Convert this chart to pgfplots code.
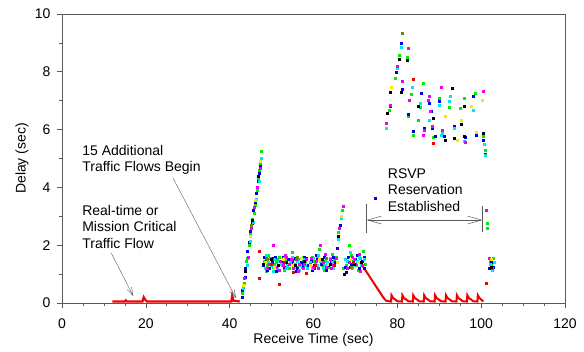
\documentclass[border=0pt]{standalone}
\usepackage{fontspec}
\setmainfont{Liberation Sans}
\usepackage{pgfplots}
\pgfplotsset{compat=1.18}
\usetikzlibrary{arrows.meta}
\definecolor{cG}{RGB}{0,235,0}
\definecolor{cB}{RGB}{0,0,230}
\definecolor{cC}{RGB}{0,230,240}
\definecolor{cM}{RGB}{240,0,240}
\definecolor{cY}{RGB}{245,235,0}
\definecolor{cK}{RGB}{0,0,0}
\definecolor{cD}{RGB}{110,130,20}
\definecolor{cR}{RGB}{240,0,0}
\definecolor{axgray}{RGB}{90,90,90}
\newcommand\ff{\fontsize{14}{16.5}\selectfont}
\begin{document}
\begin{tikzpicture}[font=\ff]
\begin{axis}[
  at={(0pt,0pt)}, anchor=south west,
  scale only axis, width=503pt, height=289pt,
  xmin=0, xmax=120, ymin=0, ymax=10,
  xtick={0,20,...,120}, ytick={0,2,...,10},
  minor x tick num=3, minor y tick num=1,
  xtick pos=left, ytick pos=left,
  tick align=outside,
  major tick length=5pt, minor tick length=3pt,
  axis line style={axgray, line width=0.6pt},
  tick style={axgray, line width=0.6pt},
  /pgf/number format/assume math mode=true,
  ticklabel style={font=\ff},
  xticklabel style={yshift=-7pt},
  yticklabel style={xshift=-3pt},
  xlabel={Receive Time (sec)},
  ylabel={Delay (sec)},
  every axis x label/.style={at={(axis description cs:0.5,-0.127)}, anchor=center},
  every axis y label/.style={at={(axis description cs:-0.0795,0.5)}, rotate=90, anchor=center},
  clip=false,
  mark size=1.0pt,
]
% red real-time flow (line-like)
\addplot[cR, line width=2.2pt, no marks] coordinates {
(12,0.05) (15,0.05) (15.2,0.09) (15.5,0.05) (19.2,0.05) (19.5,0.2) (19.9,0.1) (20.3,0.05)
(40.4,0.05) (40.6,0.25) (40.9,0.08) (42.4,0.05)};
\addplot[cR, line width=2pt, no marks] coordinates {
(71.8,1.26) (73.0,1.0) (74.2,0.73) (75.4,0.47) (76.6,0.2) (77.3,0.08) (78.5,0.05)
(78.6,0.27) (79.0,0.17) (79.5,0.12) (80.0,0.06) (81.1,0.05)
(81.2,0.27) (81.6,0.17) (82.1,0.12) (82.6,0.06) (83.7,0.05)
(83.8,0.27) (84.2,0.17) (84.7,0.12) (85.2,0.06) (86.3,0.05)
(86.4,0.27) (86.8,0.17) (87.3,0.12) (87.8,0.06) (88.9,0.05)
(89.0,0.27) (89.4,0.17) (89.9,0.12) (90.4,0.06) (91.5,0.05)
(91.6,0.27) (92.0,0.17) (92.5,0.12) (93.0,0.06) (94.1,0.05)
(94.2,0.27) (94.6,0.17) (95.1,0.12) (95.6,0.06) (96.6,0.05)
(96.7,0.27) (97.1,0.17) (97.6,0.12) (98.1,0.06) (99.1,0.05)
(99.2,0.27) (99.6,0.17) (100.0,0.12) (100.5,0.05)};
% green
\addplot[only marks, mark=square*, cG] coordinates {
(43.0,0.35) (43.9,1.45) (44.6,2.0) (45.3,2.9) (46.0,3.4) (46.7,4.3) (47.3,4.8) (47.6,5.25)
(43.4,0.7) (44.2,1.55) (45.0,2.4) (45.8,3.1) (46.5,3.9) (47.1,4.6)
(48.2,1.45) (48.9,1.3) (49.6,1.55) (50.3,1.25) (51.0,1.4) (51.8,1.6) (52.5,1.3) (53.3,1.5)
(54.1,1.2) (54.8,1.75) (55.6,1.35) (56.4,1.5) (57.2,1.25) (58.0,1.45) (58.8,1.3) (59.6,1.6)
(60.4,1.35) (61.3,1.85) (62.1,1.3) (62.9,1.45) (63.7,1.25) (64.5,1.7) (65.3,1.6) (66.0,2.45)
(66.8,3.2) (67.8,1.3) (68.6,2.0) (69.4,1.45) (70.3,1.3) (71.1,1.55) (71.9,1.8)
(48.6,1.1) (49.3,1.65) (50.7,1.35) (51.4,1.5) (52.9,1.15) (53.7,1.35) (55.2,1.5) (56.0,1.25)
(57.6,1.6) (58.4,1.2) (60.0,1.45) (60.8,1.6) (62.5,1.15) (63.3,1.35) (64.9,1.5) (67.2,1.2)
(69.0,1.65) (70.7,1.15) (72.3,1.35)
(79.6,7.77) (80.4,8.58) (82.3,8.49) (83.3,7.22) (86.1,7.6) (90.1,7.08) (96.0,7.1) (98.6,7.26)
(78.0,6.68) (85.5,6.77) (92.3,6.79) (95.1,6.73) (82.5,6.45) (84.9,6.31) (83.7,5.81) (88.6,5.73)
(98.9,5.81) (100.5,5.76) (101.0,5.3) (101.4,2.6) (101.4,2.75)
(102.1,1.45) (102.5,1.3) (102.8,1.55)};
% blue
\addplot[only marks, mark=square*, cB] coordinates {
(42.9,0.2) (43.6,0.9) (44.3,1.8) (45.0,2.5) (45.7,3.2) (46.4,3.8) (47.0,4.5)
(43.1,0.45) (43.8,1.2) (44.6,2.1) (45.4,2.75) (46.1,3.5) (46.8,4.2) (47.4,4.75)
(48.0,1.3) (48.7,1.5) (49.4,1.2) (50.1,1.4) (50.9,1.6) (51.6,1.3) (52.4,1.45) (53.1,1.25)
(53.9,1.5) (54.7,1.35) (55.4,1.55) (56.2,1.2) (57.0,1.4) (57.8,1.6) (58.6,1.3) (59.4,1.45)
(60.2,1.2) (61.0,1.5) (61.8,1.35) (62.6,1.6) (63.4,1.3) (64.2,1.45) (65.0,1.4) (65.6,1.9)
(66.4,2.7) (67.5,1.25) (68.3,1.6) (69.1,1.35) (70.0,1.5) (70.8,1.2) (71.6,1.45) (72.2,1.6)
(48.3,1.6) (49.0,1.15) (50.5,1.55) (51.2,1.1) (52.8,1.6) (53.5,1.2) (55.0,1.45) (55.8,1.1)
(57.4,1.3) (58.2,1.55) (59.8,1.15) (60.6,1.65) (62.2,1.4) (63.0,1.15) (64.6,1.6) (67.8,1.05)
(68.7,1.25) (70.4,1.65) (72.0,1.2)
(74.8,3.62) (80.95,8.99) (79.8,7.97) (81.2,7.4) (85.8,7.26) (98.2,7.16) (90.1,6.99) (78.2,6.8)
(87.5,6.9) (88.1,6.62) (82.5,6.54) (93.6,6.12) (88.3,6.04) (86.3,6.04) (83.7,5.93) (89.0,5.76)
(91.2,5.76) (96.2,5.72) (98.8,5.81) (100.5,5.64) (101.0,5.15)
(102.0,1.2) (102.4,1.4) (102.9,1.25)};
% cyan
\addplot[only marks, mark=square*, cC] coordinates {
(43.3,0.5) (44.1,1.3) (44.9,2.15) (45.6,2.8) (46.3,3.6) (47.1,4.2) (47.5,5.0)
(48.4,1.2) (49.2,1.4) (50.0,1.3) (50.7,1.5) (51.4,1.2) (52.2,1.35) (53.0,1.55) (53.7,1.3)
(54.5,1.4) (55.3,1.25) (56.0,1.45) (56.8,1.3) (57.6,1.5) (58.4,1.2) (59.2,1.4) (60.0,1.55)
(60.8,1.3) (61.6,1.45) (62.4,1.2) (63.2,1.4) (64.0,1.55) (64.8,1.2) (65.8,2.2) (66.6,2.95)
(68.0,1.45) (68.8,1.75) (69.6,1.3) (70.5,1.45) (71.3,1.3) (72.0,1.5)
(48.8,1.65) (50.3,1.1) (51.8,1.45) (53.4,1.2) (55.0,1.6) (56.5,1.15) (58.0,1.3) (59.7,1.2)
(61.2,1.65) (62.8,1.3) (64.4,1.4) (67.6,1.5) (69.3,1.2) (71.0,1.6)
(80.95,8.84) (79.9,8.12) (83.6,7.48) (92.6,7.17) (85.5,6.93) (92.3,6.99) (90.1,6.85) (98.0,6.68)
(87.5,6.33) (77.4,6.04) (93.6,6.04) (90.7,5.87) (90.5,5.81) (95.9,5.6) (100.7,5.5) (101.0,5.1)
(102.2,1.35) (102.6,1.15) (103.0,1.4)};
% magenta
\addplot[only marks, mark=square*, cM] coordinates {
(43.5,0.85) (44.4,1.6) (45.1,2.6) (45.9,3.3) (46.6,4.0) (47.2,4.65)
(48.6,1.55) (49.4,1.35) (50.4,2.0) (51.2,1.25) (52.0,1.45) (52.8,1.3) (53.6,1.6) (54.3,1.35)
(55.1,1.2) (55.9,1.5) (56.7,1.35) (57.5,1.2) (58.3,1.5) (59.1,1.35) (59.9,1.25) (60.7,1.45)
(61.5,2.0) (62.3,1.4) (63.0,1.25) (63.9,1.5) (64.7,1.3) (65.5,1.55) (66.2,2.6) (67.0,3.35)
(68.4,1.4) (69.2,1.6) (70.1,1.35) (70.9,1.7) (71.7,1.3)
(48.9,1.2) (50.2,1.5) (51.9,1.15) (53.2,1.65) (54.6,1.5) (56.3,1.1) (57.8,1.35) (59.5,1.55)
(61.1,1.2) (62.7,1.7) (64.3,1.2) (68.1,1.2) (69.6,1.5) (71.2,1.1)
(82.7,8.81) (79.9,8.2) (81.2,7.68) (90.5,7.46) (87.7,7.14) (100.4,7.33) (82.9,7.02) (87.3,7.02)
(78.2,6.85) (87.9,6.62) (88.3,6.12) (86.3,5.97) (90.7,5.99) (86.1,5.81) (96.3,5.55) (77.4,6.22)
(101.2,3.22) (102.0,1.55) (102.7,1.2)};
% yellow
\addplot[only marks, mark=square*, cY] coordinates {
(43.2,0.6) (44.8,2.3) (46.2,3.55) (47.4,4.9)
(48.5,1.4) (50.6,1.25) (52.7,1.5) (54.9,1.3) (57.1,1.55) (59.3,1.3) (61.4,1.5) (63.6,1.35)
(65.7,1.4) (66.7,3.0) (68.7,1.5) (70.7,1.4)
(78.6,7.48) (100.2,7.02) (97.6,6.82) (91.3,6.45) (95.2,6.31) (98.9,5.92) (94.2,5.64)
(102.4,1.5)};
% black
\addplot[only marks, mark=square*, cK] coordinates {
(43.7,1.1) (45.4,2.85) (46.9,4.4)
(48.1,1.35) (49.9,1.5) (51.5,1.3) (53.4,1.4) (55.7,1.3) (57.9,1.45) (60.1,1.3) (62.0,1.5)
(64.1,1.35) (65.9,2.3) (67.3,1.0) (69.8,1.35) (71.4,1.4)
(80.4,8.44) (82.3,8.4) (78.4,7.31) (81.0,7.31) (93.0,7.43) (77.6,6.56) (84.9,6.82) (95.9,6.82)
(88.5,6.39) (95.2,6.2) (91.3,5.64) (93.6,5.7) (96.0,5.78) (100.5,5.89)
(102.3,1.25)};
% dark green
\addplot[only marks, mark=square*, cD] coordinates {
(81.1,9.33) (49.0,1.5) (56.0,1.6) (63.0,1.55) (69.0,1.25) (45.2,2.7)};
% red scattered points
\addplot[only marks, mark=square*, cR] coordinates {
(47.0,1.78) (47.0,0.85) (51.7,0.65) (55.1,1.08) (58.2,1.03) (50.0,1.35) (53.0,1.4) (60.5,1.3)
(65.0,1.3) (69.5,1.4) (83.7,7.74) (88.6,5.52) (101.2,0.7)};
% annotations
\node[anchor=north west, align=left, inner sep=0pt] at (axis cs:4.8,5.47) {15 Additional\\Traffic Flows Begin};
\node[anchor=north west, align=left, inner sep=0pt] at (axis cs:4.8,3.39) {Real-time or\\Mission Critical\\Traffic Flow};
\node[anchor=north west, align=left, inner sep=0pt] at (axis cs:77.7,4.67) {RSVP\\Reservation\\Established};
\draw[axgray, line width=0.4pt, -{Straight Barb[length=8pt,width=5pt]}] (axis cs:26.5,4.32) -- (axis cs:41.5,0.17);
\draw[axgray, line width=0.4pt, -{Straight Barb[length=8pt,width=5pt]}] (axis cs:11.75,1.73) -- (axis cs:17.0,0.24);
\draw[axgray, line width=0.5pt, {Straight Barb[length=14pt,width=8pt]}-{Straight Barb[length=14pt,width=8pt]}] (axis cs:72.7,2.87) -- (axis cs:100.3,2.87);
\draw[axgray, line width=0.5pt] (axis cs:72.7,2.42) -- (axis cs:72.7,3.43);
\draw[axgray, line width=0.5pt] (axis cs:100.3,2.45) -- (axis cs:100.3,3.35);
\end{axis}
\path[use as bounding box] (-62pt,-49pt) rectangle (522pt,303pt);
\end{tikzpicture}
\end{document}
